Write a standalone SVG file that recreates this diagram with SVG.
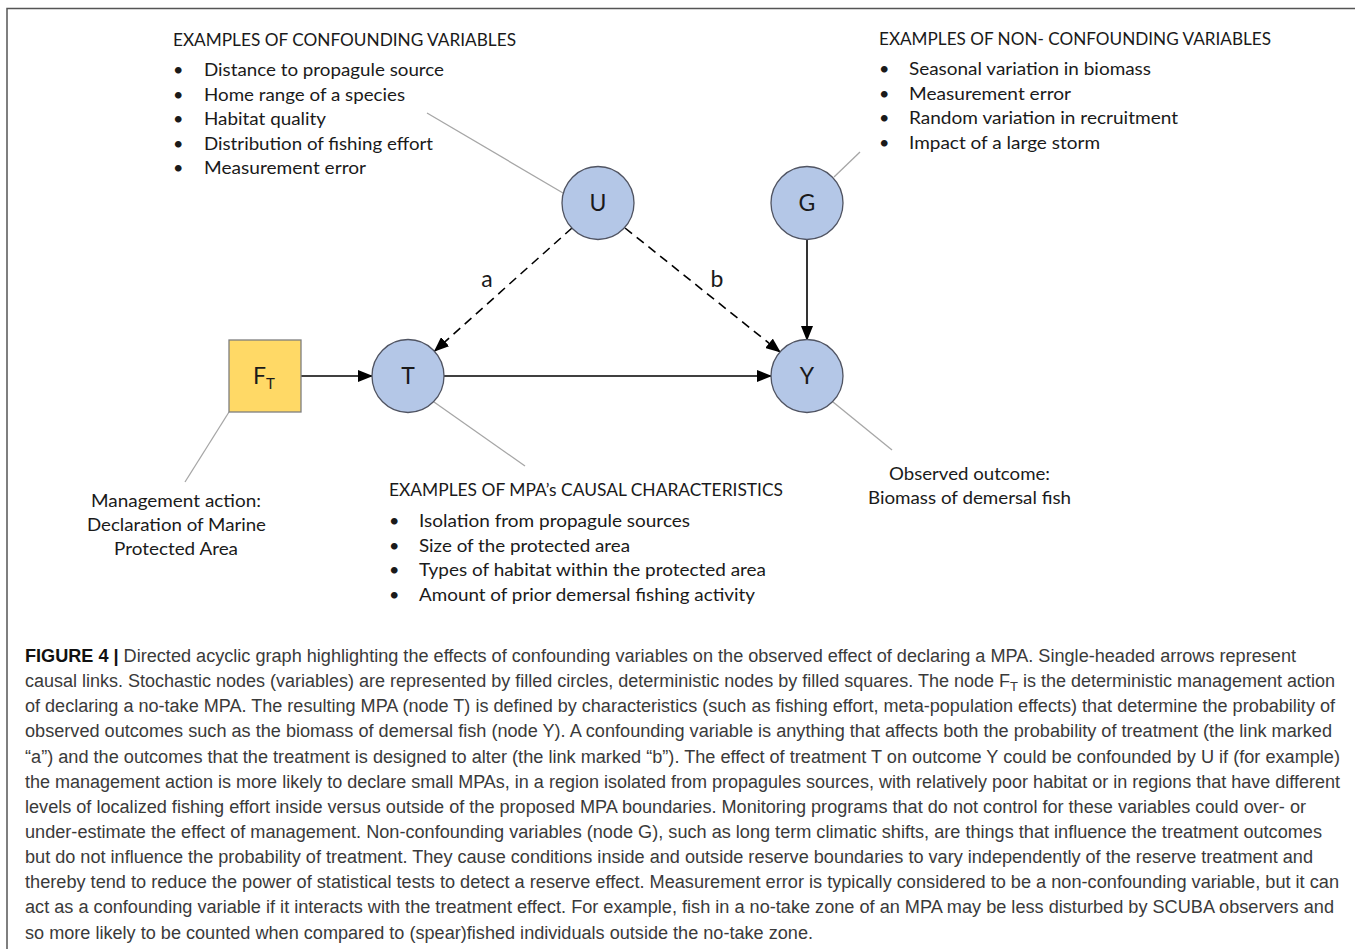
<svg xmlns="http://www.w3.org/2000/svg" width="1355" height="949" viewBox="0 0 1355 949">
<style>
.lbl{font-family:Lato,"Liberation Sans",sans-serif;font-size:18px;fill:#1a1a1a}
.node{fill:#B4C7E7;stroke:#505462;stroke-width:1.3}
.sq{fill:#FFD966;stroke:#7f7f7f;stroke-width:1.3}
.nl{font-family:Lato,"Liberation Sans",sans-serif;font-size:23px;fill:#1a1a1a;text-anchor:middle}
.edge{stroke:#000;stroke-width:1.6;fill:none}
.dash{stroke-dasharray:9 6}
.call{stroke:#a6a6a6;stroke-width:1.3;fill:none}
.cap{font-family:"Liberation Sans",Arial,sans-serif;font-size:18px;fill:#3a3a3a}
.capb{font-weight:bold;fill:#111}
</style>
<defs>
<marker id="ah" markerUnits="userSpaceOnUse" markerWidth="15" markerHeight="12" refX="14" refY="6" orient="auto">
<path d="M0,0 L15,6 L0,12 z" fill="#000"/>
</marker>
</defs>
<rect width="1355" height="949" fill="#fff"/>
<path d="M7,949 V8.5 H1355" fill="none" stroke="#555" stroke-width="1.5"/>

<g id="callouts">
<line class="call" x1="427" y1="113" x2="563" y2="193"/>
<line class="call" x1="834" y1="177" x2="860" y2="152"/>
<line class="call" x1="229" y1="412" x2="185" y2="482"/>
<line class="call" x1="434" y1="402" x2="525" y2="466"/>
<line class="call" x1="833" y1="402" x2="892" y2="450"/>
</g>

<g id="connectors">
<line class="edge" x1="301" y1="376" x2="372" y2="376" marker-end="url(#ah)"/>
<line class="edge" x1="444" y1="376" x2="771" y2="376" marker-end="url(#ah)"/>
<line class="edge" x1="807" y1="239" x2="807" y2="340" marker-end="url(#ah)"/>
<line class="edge dash" x1="572" y1="228" x2="434.6" y2="351" marker-end="url(#ah)"/>
<line class="edge dash" x1="625" y1="228" x2="780" y2="352" marker-end="url(#ah)"/>
<text class="nl" x="487" y="287">a</text>
<text class="nl" x="717" y="287">b</text>
</g>

<g id="node-U"><ellipse class="node" cx="598" cy="203" rx="36" ry="36.5"/><text class="nl" x="598" y="211">U</text></g>
<g id="node-G"><ellipse class="node" cx="807" cy="203" rx="36" ry="36.5"/><text class="nl" x="807" y="211">G</text></g>
<g id="node-T"><ellipse class="node" cx="408" cy="376" rx="36" ry="36.5"/><text class="nl" x="408" y="384">T</text></g>
<g id="node-Y"><ellipse class="node" cx="807" cy="376" rx="36" ry="36.5"/><text class="nl" x="807" y="384">Y</text></g>
<g id="node-FT"><rect class="sq" x="229" y="340" width="72" height="72"/><text class="nl" x="264" y="384">F<tspan font-size="15" dy="5">T</tspan></text></g>

<g id="confounding">
<text class="lbl" x="173" y="46" textLength="343" lengthAdjust="spacingAndGlyphs">EXAMPLES OF CONFOUNDING VARIABLES</text>
<text class="lbl" x="173" y="76">•</text><text class="lbl" x="204" y="76" textLength="240" lengthAdjust="spacingAndGlyphs">Distance to propagule source</text>
<text class="lbl" x="173" y="101">•</text><text class="lbl" x="204" y="101" textLength="201" lengthAdjust="spacingAndGlyphs">Home range of a species</text>
<text class="lbl" x="173" y="125">•</text><text class="lbl" x="204" y="125" textLength="122" lengthAdjust="spacingAndGlyphs">Habitat quality</text>
<text class="lbl" x="173" y="150">•</text><text class="lbl" x="204" y="150" textLength="229" lengthAdjust="spacingAndGlyphs">Distribution of fishing effort</text>
<text class="lbl" x="173" y="174">•</text><text class="lbl" x="204" y="174" textLength="162" lengthAdjust="spacingAndGlyphs">Measurement error</text>
</g>

<g id="nonconfounding">
<text class="lbl" x="879" y="45" textLength="392" lengthAdjust="spacingAndGlyphs">EXAMPLES OF NON- CONFOUNDING VARIABLES</text>
<text class="lbl" x="879" y="75">•</text><text class="lbl" x="909" y="75" textLength="242" lengthAdjust="spacingAndGlyphs">Seasonal variation in biomass</text>
<text class="lbl" x="879" y="100">•</text><text class="lbl" x="909" y="100" textLength="162" lengthAdjust="spacingAndGlyphs">Measurement error</text>
<text class="lbl" x="879" y="124">•</text><text class="lbl" x="909" y="124" textLength="269" lengthAdjust="spacingAndGlyphs">Random variation in recruitment</text>
<text class="lbl" x="879" y="149">•</text><text class="lbl" x="909" y="149" textLength="191" lengthAdjust="spacingAndGlyphs">Impact of a large storm</text>
</g>

<g id="mpa-characteristics">
<text class="lbl" x="389" y="496" textLength="394" lengthAdjust="spacingAndGlyphs">EXAMPLES OF MPA’s CAUSAL CHARACTERISTICS</text>
<text class="lbl" x="389" y="527">•</text><text class="lbl" x="419" y="527" textLength="271" lengthAdjust="spacingAndGlyphs">Isolation from propagule sources</text>
<text class="lbl" x="389" y="552">•</text><text class="lbl" x="419" y="552" textLength="211" lengthAdjust="spacingAndGlyphs">Size of the protected area</text>
<text class="lbl" x="389" y="576">•</text><text class="lbl" x="419" y="576" textLength="347" lengthAdjust="spacingAndGlyphs">Types of habitat within the protected area</text>
<text class="lbl" x="389" y="601">•</text><text class="lbl" x="419" y="601" textLength="336" lengthAdjust="spacingAndGlyphs">Amount of prior demersal fishing activity</text>
</g>

<g id="management-action">
<text class="lbl" x="91" y="507" textLength="170" lengthAdjust="spacingAndGlyphs">Management action:</text>
<text class="lbl" x="87" y="531" textLength="179" lengthAdjust="spacingAndGlyphs">Declaration of Marine</text>
<text class="lbl" x="114" y="555" textLength="124" lengthAdjust="spacingAndGlyphs">Protected Area</text>
</g>

<g id="observed-outcome">
<text class="lbl" x="889" y="480" textLength="161" lengthAdjust="spacingAndGlyphs">Observed outcome:</text>
<text class="lbl" x="868" y="504" textLength="203" lengthAdjust="spacingAndGlyphs">Biomass of demersal fish</text>
</g>

<g id="caption">
<text class="cap" x="25" y="662" textLength="1271" lengthAdjust="spacingAndGlyphs"><tspan class="capb">FIGURE 4 |</tspan> Directed acyclic graph highlighting the effects of confounding variables on the observed effect of declaring a MPA. Single-headed arrows represent</text>
<text class="cap" x="25" y="687" textLength="1310" lengthAdjust="spacingAndGlyphs">causal links. Stochastic nodes (variables) are represented by filled circles, deterministic nodes by filled squares. The node F<tspan font-size="13" baseline-shift="-4">T</tspan> is the deterministic management action</text>
<text class="cap" x="25" y="712" textLength="1310" lengthAdjust="spacingAndGlyphs">of declaring a no-take MPA. The resulting MPA (node T) is defined by characteristics (such as fishing effort, meta-population effects) that determine the probability of</text>
<text class="cap" x="25" y="737" textLength="1307" lengthAdjust="spacingAndGlyphs">observed outcomes such as the biomass of demersal fish (node Y). A confounding variable is anything that affects both the probability of treatment (the link marked</text>
<text class="cap" x="25" y="763" textLength="1315" lengthAdjust="spacingAndGlyphs">“a”) and the outcomes that the treatment is designed to alter (the link marked “b”). The effect of treatment T on outcome Y could be confounded by U if (for example)</text>
<text class="cap" x="25" y="788" textLength="1315" lengthAdjust="spacingAndGlyphs">the management action is more likely to declare small MPAs, in a region isolated from propagules sources, with relatively poor habitat or in regions that have different</text>
<text class="cap" x="25" y="813" textLength="1281" lengthAdjust="spacingAndGlyphs">levels of localized fishing effort inside versus outside of the proposed MPA boundaries. Monitoring programs that do not control for these variables could over- or</text>
<text class="cap" x="25" y="838" textLength="1297" lengthAdjust="spacingAndGlyphs">under-estimate the effect of management. Non-confounding variables (node G), such as long term climatic shifts, are things that influence the treatment outcomes</text>
<text class="cap" x="25" y="863" textLength="1288" lengthAdjust="spacingAndGlyphs">but do not influence the probability of treatment. They cause conditions inside and outside reserve boundaries to vary independently of the reserve treatment and</text>
<text class="cap" x="25" y="888" textLength="1314" lengthAdjust="spacingAndGlyphs">thereby tend to reduce the power of statistical tests to detect a reserve effect. Measurement error is typically considered to be a non-confounding variable, but it can</text>
<text class="cap" x="25" y="913" textLength="1309" lengthAdjust="spacingAndGlyphs">act as a confounding variable if it interacts with the treatment effect. For example, fish in a no-take zone of an MPA may be less disturbed by SCUBA observers and</text>
<text class="cap" x="25" y="939" textLength="788" lengthAdjust="spacingAndGlyphs">so more likely to be counted when compared to (spear)fished individuals outside the no-take zone.</text>
</g>
</svg>
